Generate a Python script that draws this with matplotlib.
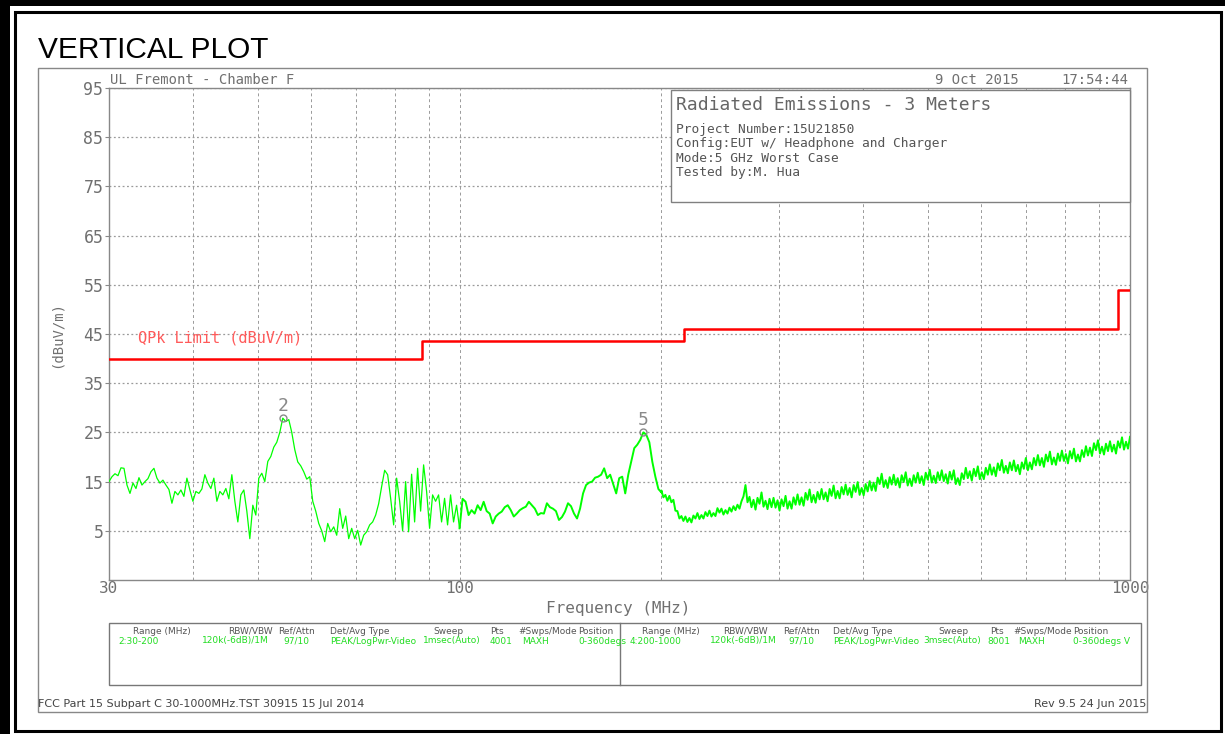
import numpy as np
import matplotlib.pyplot as plt
import matplotlib.ticker as ticker
from matplotlib.patches import Rectangle
from matplotlib.lines import Line2D

W, H = 1225, 734

# QPk limit line (dBuV/m)
limit_mhz = [30, 88, 88, 216, 216, 960, 960, 1000]
limit_dbuv = [40, 40, 43.5, 43.5, 46, 46, 54, 54]

# max-hold sweep levels, 30-100 MHz
sweep_lo_dbuv = [
    15.0, 16.0, 16.6, 16.2, 17.8, 17.7, 14.3, 12.6, 14.7, 13.6,
    15.8, 14.3, 15.0, 15.6, 17.0, 17.7, 15.7, 14.7, 15.3, 14.3,
    13.4, 10.6, 13.0, 12.3, 13.3, 12.0, 15.7, 13.3, 11.0, 13.0,
    12.6, 13.5, 16.4, 14.7, 13.6, 15.7, 11.0, 13.0, 12.3, 13.6,
    11.5, 16.4, 11.0, 6.8, 12.3, 13.3, 9.0, 3.4, 10.2, 8.2,
    15.7, 16.7, 15.0, 19.1, 20.1, 22.0, 23.0, 25.0, 27.9, 27.2,
    27.6, 25.0, 21.5, 19.0, 18.2, 17.0, 15.5, 16.0, 11.0, 9.0,
    6.5, 5.0, 2.8, 6.5, 4.8, 5.8, 4.1, 9.5, 5.5, 8.0,
    3.4, 5.5, 3.4, 5.1, 2.1, 4.1, 4.8, 6.2, 6.8, 8.2,
    10.5, 14.0, 17.3, 16.4, 11.6, 6.2, 15.7, 11.0, 5.0, 15.0,
    4.8, 16.5, 6.8, 17.7, 9.0, 18.4, 13.0, 5.5, 12.3, 11.0,
    12.3, 6.8, 11.6, 6.2, 12.3, 6.8, 10.2, 5.5,
]
# 100-200 MHz
sweep_mid_dbuv = [
    5.5, 11.5, 10.9, 8.2, 9.2, 8.5, 10.2, 9.2, 10.9, 9.0,
    8.5, 6.5, 7.9, 8.5, 8.9, 9.8, 10.2, 9.2, 7.9, 8.5,
    9.2, 9.6, 9.9, 10.9, 10.2, 9.5, 8.2, 8.6, 8.5, 10.6,
    9.8, 9.5, 9.0, 7.2, 7.8, 8.9, 10.6, 10.0, 8.5, 7.5,
    9.5, 12.6, 14.3, 14.8, 15.0, 15.8, 16.0, 16.4, 17.7, 15.7,
    16.4, 14.5, 12.6, 15.7, 16.0, 12.6, 16.4, 19.1, 21.8, 22.5,
    23.5, 25.0, 24.5, 23.0, 19.0, 16.0, 13.5, 12.8,
]
# 200-1000 MHz
sweep_hi_dbuv = [
    13.2, 11.8, 12.3, 11.1, 12.1, 10.8, 11.3, 9.1, 9.0, 7.5,
    8.0, 7.0, 7.9, 6.8, 7.6, 6.7, 8.1, 7.5, 8.6, 7.4,
    8.2, 7.5, 8.8, 8.0, 9.1, 7.9, 8.6, 8.0, 9.6, 8.7,
    9.5, 8.3, 9.2, 8.5, 9.7, 8.9, 10.0, 9.2, 10.3, 9.5,
    11.0, 12.0, 14.3, 10.8, 11.9, 9.8, 11.3, 9.3, 11.7, 10.5,
    12.8, 9.9, 11.1, 9.4, 11.5, 9.8, 11.7, 9.7, 11.2, 9.1,
    11.4, 10.0, 12.1, 9.5, 11.0, 9.5, 11.8, 10.3, 12.4, 10.3,
    11.8, 10.1, 12.7, 11.3, 13.4, 10.8, 12.3, 10.7, 12.9, 11.4,
    13.5, 11.4, 12.8, 11.0, 13.5, 12.1, 14.2, 11.6, 13.1, 11.6,
    13.9, 12.4, 14.4, 12.3, 13.7, 11.8, 14.3, 12.9, 14.9, 12.3,
    13.7, 12.2, 14.5, 13.0, 15.1, 13.2, 14.8, 13.1, 15.8, 14.5,
    16.6, 13.9, 15.3, 13.7, 15.9, 14.4, 16.4, 14.3, 15.7, 13.8,
    16.3, 14.9, 16.9, 14.2, 15.6, 14.1, 16.3, 14.8, 16.8, 14.7,
    16.1, 14.3, 16.8, 15.4, 17.4, 14.8, 16.2, 14.7, 16.9, 15.3,
    17.3, 15.1, 16.5, 14.6, 17.0, 15.4, 17.3, 14.5, 15.7, 14.3,
    16.7, 15.5, 17.8, 15.7, 17.1, 15.2, 17.6, 16.1, 18.1, 15.5,
    16.9, 15.5, 17.8, 16.4, 18.5, 16.4, 17.9, 16.1, 18.7, 17.3,
    19.4, 16.8, 18.2, 16.7, 18.9, 17.3, 19.3, 17.1, 18.4, 16.5,
    18.9, 17.6, 19.8, 17.3, 18.9, 17.5, 19.8, 18.3, 20.4, 18.3,
    19.8, 18.0, 20.5, 19.1, 21.1, 18.5, 19.9, 18.4, 20.7, 19.2,
    21.3, 19.2, 20.6, 18.7, 21.2, 19.7, 21.7, 19.1, 20.5, 19.1,
    21.4, 20.0, 22.2, 20.3, 21.9, 20.2, 22.8, 21.4, 23.4, 20.7,
    22.1, 20.5, 22.7, 21.2, 23.2, 21.1, 22.5, 20.7, 23.2, 21.9,
    24.0, 21.5, 23.1, 21.7, 24.1,
]

# peak markers
marker_ids = ['2', '5']
marker_mhz = [54.5, 187.9]
marker_dbuv = [27.9, 25.0]

y_ticks = [5, 15, 25, 35, 45, 55, 65, 75, 85, 95]
x_labels = {30: '30', 100: '100', 1000: '1000'}

info_title = 'Radiated Emissions - 3 Meters'
info_lines = ['Project Number:15U21850',
              'Config:EUT w/ Headphone and Charger',
              'Mode:5 GHz Worst Case',
              'Tested by:M. Hua']

table_headers = ['Range (MHz)', 'RBW/VBW', 'Ref/Attn', 'Det/Avg Type',
                 'Sweep', 'Pts', '#Swps/Mode', 'Position']
range_lo_row = ['2:30-200', '120k(-6dB)/1M', '97/10', 'PEAK/LogPwr-Video',
                '1msec(Auto)', '4001', 'MAXH', '0-360degs']
range_hi_row = ['4:200-1000', '120k(-6dB)/1M', '97/10', 'PEAK/LogPwr-Video',
                '3msec(Auto)', '8001', 'MAXH', '0-360degs V']

MONO = 'DejaVu Sans Mono'
NARROW = ['Liberation Sans Narrow', 'DejaVu Sans']
GRAY = '#707070'
TRACE = '#00ff00'


def fx(x):
    return x / W


def fy(y):
    return 1 - y / H


fig = plt.figure(figsize=(W / 100, H / 100), dpi=100)

# page border
fig.add_artist(Rectangle((0, 0), fx(10), 1, transform=fig.transFigure,
                         color='black', lw=0))
fig.add_artist(Rectangle((0, fy(6)), 1, fy(0) - fy(6), transform=fig.transFigure,
                         color='black', lw=0))
fig.add_artist(Rectangle((fx(15), fy(731)), fx(1221) - fx(15), fy(12) - fy(731),
                         transform=fig.transFigure, fill=False,
                         edgecolor='black', lw=2.2))
fig.add_artist(Rectangle((fx(38), fy(712)), fx(1147) - fx(38), fy(68) - fy(712),
                         transform=fig.transFigure, fill=False,
                         edgecolor='#888888', lw=1))

fig.text(fx(38), fy(50), 'VERTICAL PLOT', fontsize=21.5,
         family='Liberation Sans', va='center', ha='left')

ax = fig.add_axes([fx(109), fy(580), fx(1130) - fx(109), fy(88) - fy(580)])
ax.set_xscale('log')
ax.set_xlim(30, 1000)
ax.set_ylim(-5, 95)

# sweep points of each band, evenly spaced on the log axis
lo_mhz = np.geomspace(30, 100, len(sweep_lo_dbuv))
mid_mhz = np.geomspace(100, 200, len(sweep_mid_dbuv))
hi_mhz = np.geomspace(200, 1000, len(sweep_hi_dbuv))

ax.plot(lo_mhz, sweep_lo_dbuv, color=TRACE, lw=0.9, zorder=3)
# upper bands are noisier, drawn a little heavier
ax.plot(np.concatenate([lo_mhz[-1:], mid_mhz, hi_mhz]),
        np.concatenate([sweep_lo_dbuv[-1:], sweep_mid_dbuv, sweep_hi_dbuv]),
        color=TRACE, lw=1.4, zorder=3)

ax.plot(limit_mhz, limit_dbuv, color='#ff0000', lw=1.8, zorder=4)
ax.text(33.1, 44.2, 'QPk Limit (dBuV/m)', color='#ff5a5a', family=MONO,
        fontsize=11, va='center', ha='left')

for mid, f, lvl in zip(marker_ids, marker_mhz, marker_dbuv):
    ax.plot(f, lvl, 'o', ms=5, mfc='none', mec='#8a8a8a', mew=1, zorder=5)
    ax.text(f, lvl + 0.6, mid, color='#8a8a8a', family=MONO, fontsize=13,
            ha='center', va='bottom')

# grid
ax.set_yticks(y_ticks)
ax.set_xticks(list(x_labels))
ax.set_xticklabels(list(x_labels.values()))
ax.xaxis.set_minor_locator(ticker.FixedLocator(
    [40, 50, 60, 70, 80, 90, 200, 300, 400, 500, 600, 700, 800, 900]))
ax.xaxis.set_minor_formatter(ticker.NullFormatter())
ax.grid(axis='y', color='#9a9a9a', lw=0.9, ls=(0, (1.5, 2)))
ax.grid(axis='x', which='both', color='#9a9a9a', lw=0.7, ls=(0, (3, 3)))
ax.tick_params(axis='x', which='both', length=0, pad=1, labelsize=11.5,
               labelcolor=GRAY)
ax.tick_params(axis='y', length=3, color='#888888', pad=1, labelsize=12,
               labelcolor=GRAY)
for lab in ax.get_xticklabels() + ax.get_yticklabels():
    lab.set_family(MONO)
for sp in ax.spines.values():
    sp.set_color('#888888')
    sp.set_linewidth(1)

fig.text(fx(57), fy(335), '(dBuV/m)', rotation=90, family=MONO, fontsize=10,
         color=GRAY, ha='center', va='center')
fig.text(fx(618), fy(608), 'Frequency (MHz)', family=MONO, fontsize=11.5,
         color=GRAY, ha='center', va='center')

fig.text(fx(110), fy(80), 'UL Fremont - Chamber F', family=MONO, fontsize=10,
         color=GRAY, va='center')
fig.text(fx(935), fy(80), '9 Oct 2015', family=MONO, fontsize=10,
         color=GRAY, va='center')
fig.text(fx(1128), fy(80), '17:54:44', family=MONO, fontsize=10,
         color=GRAY, va='center', ha='right')

# info box
fig.add_artist(Rectangle((fx(671), fy(202)), fx(1130) - fx(671), fy(90) - fy(202),
                         transform=fig.transFigure, facecolor='white',
                         edgecolor='#808080', lw=1, zorder=5))
fig.text(fx(676), fy(105), info_title, family=MONO, fontsize=13,
         color='#666666', va='center', zorder=6)
for i, line in enumerate(info_lines):
    fig.text(fx(676), fy(129 + i * 14.5), line, family=MONO, fontsize=9.3,
             color='#555555', va='center', zorder=6)

# sweep settings table
fig.add_artist(Rectangle((fx(109), fy(685)), fx(1141) - fx(109), fy(623) - fy(685),
                         transform=fig.transFigure, fill=False,
                         edgecolor='#777777', lw=1))
fig.add_artist(Line2D([fx(620), fx(620)], [fy(685), fy(623)],
                      transform=fig.transFigure, color='#777777', lw=1))
head_x = [[133, 228, 278, 330, 433, 490, 518, 578],
          [642, 723, 783, 833, 938, 990, 1013, 1073]]
data_x = [[118, 202, 283, 330, 423, 490, 522, 578],
          [630, 710, 788, 833, 923, 987, 1018, 1073]]
for half, row in enumerate([range_lo_row, range_hi_row]):
    for hx, txt in zip(head_x[half], table_headers):
        fig.text(fx(hx), fy(631), txt, family=NARROW, fontsize=6.5,
                 color='#555555', va='center')
    for dx, txt in zip(data_x[half], row):
        fig.text(fx(dx), fy(641), txt, family=NARROW, fontsize=6.5,
                 color='#22dd22', va='center')

fig.text(fx(38), fy(704), 'FCC Part 15 Subpart C 30-1000MHz.TST 30915 15 Jul 2014',
         family=NARROW, fontsize=8, color='#444444', va='center')
fig.text(fx(1146), fy(704), 'Rev 9.5 24 Jun 2015', family=NARROW, fontsize=8,
         color='#444444', va='center', ha='right')

fig.savefig('out.png', dpi=100)
